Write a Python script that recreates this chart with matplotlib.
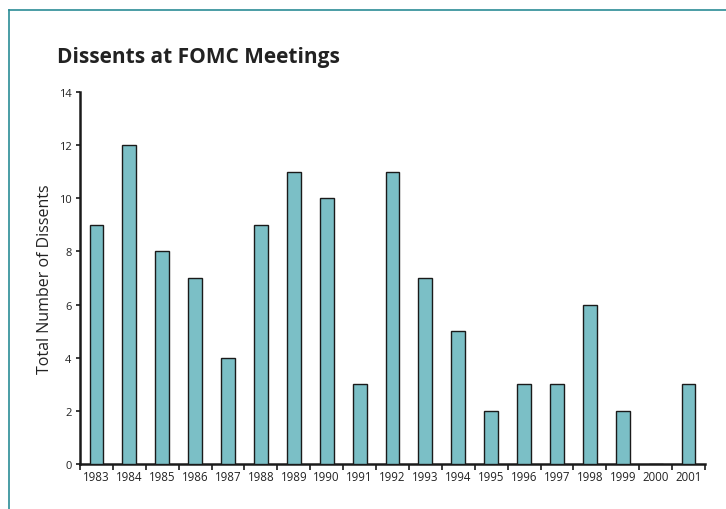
import matplotlib
matplotlib.use("Agg")
import matplotlib.pyplot as plt
from matplotlib.lines import Line2D
import numpy as np

years = ["1983", "1984", "1985", "1986", "1987", "1988", "1989", "1990", "1991", "1992",
         "1993", "1994", "1995", "1996", "1997", "1998", "1999", "2000", "2001"]
dissents = [9, 12, 8, 7, 4, 9, 11, 10, 3, 11, 7, 5, 2, 3, 3, 6, 2, 0, 3]
yticks = [0, 2, 4, 6, 8, 10, 12, 14]

plt.rcParams['font.family'] = ['Open Sans', 'DejaVu Sans']

fig = plt.figure(figsize=(7.26, 5.10), dpi=100)
W, H = 726, 510
ax = fig.add_axes([80 / W, 1 - 465 / H, (705 - 80) / W, (465 - 93) / H])

x = np.arange(len(years))
ax.bar(x, dissents, width=0.42, color="#7bbfc6", edgecolor="#1a1a1a", linewidth=1.0, zorder=3)

ax.set_xlim(-0.5, len(years) - 0.5)
ax.set_ylim(0, 14)
ax.set_yticks(yticks)
ax.set_yticklabels([str(t) for t in yticks], fontsize=8, color="#222222")
ax.set_xticks(np.arange(-0.5, len(years), 1.0))
ax.set_xticklabels([])
ax.set_xticks(x, minor=True)
ax.set_xticklabels(years, minor=True, fontsize=8.3, color="#222222")
ax.tick_params(axis="x", which="major", direction="out", length=4, width=1.2, color="#1a1a1a")
ax.tick_params(axis="x", which="minor", length=0, pad=4)
ax.tick_params(axis="y", direction="out", length=3, width=1.2, color="#1a1a1a", pad=3)

for s in ["top", "right"]:
    ax.spines[s].set_visible(False)
for s in ["left", "bottom"]:
    ax.spines[s].set_linewidth(1.8)
    ax.spines[s].set_color("#1a1a1a")

fig.text(45 / W, 1 - 279 / H, "Total Number of Dissents", rotation=90, ha="center", va="center",
         fontsize=11.5, color="#222222")
fig.text(57 / W, 1 - 57 / H, "Dissents at FOMC Meetings", ha="left", va="center",
         fontsize=15, fontweight="bold", color="#222222")

frame_color = "#2b8c96"
fig.add_artist(Line2D([9 / W, 9 / W], [0, 1 - 11 / H], color=frame_color, linewidth=1.2, transform=fig.transFigure))
fig.add_artist(Line2D([9 / W, 1], [1 - 11 / H, 1 - 11 / H], color=frame_color, linewidth=1.2, transform=fig.transFigure))

fig.savefig("out.png", dpi=100)
